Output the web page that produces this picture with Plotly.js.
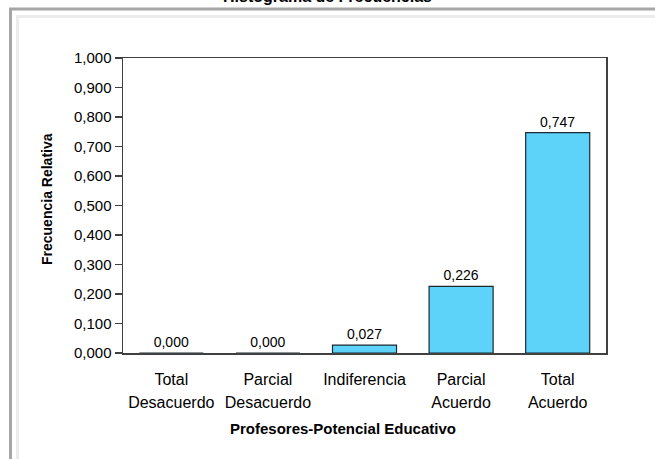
<!DOCTYPE html>
<html>
<head>
<meta charset="utf-8">
<script src="https://cdn.plot.ly/plotly-3.0.1.min.js"></script>
<style>html,body{margin:0;padding:0;background:#fff;}#chart{width:655px;height:459px;}</style>
</head>
<body>
<div id="chart"></div>
<script>
// Data
var categories = ["Total Desacuerdo", "Parcial Desacuerdo", "Indiferencia", "Parcial Acuerdo", "Total Acuerdo"];
var labelLine1 = ["Total", "Parcial", "Indiferencia", "Parcial", "Total"];
var labelLine2 = ["Desacuerdo", "Desacuerdo", "", "Acuerdo", "Acuerdo"];
var frecuenciaRelativa = [0.000, 0.000, 0.027, 0.226, 0.747];
var yTickVals = [0, 0.1, 0.2, 0.3, 0.4, 0.5, 0.6, 0.7, 0.8, 0.9, 1.0];

var fontFam = 'Arial, "Liberation Sans", sans-serif';

var barText = frecuenciaRelativa.map(function(v){ return v.toFixed(3).replace('.', ','); });

var traces = [
  {
    type: 'bar',
    x: categories,
    y: frecuenciaRelativa,
    xaxis: 'x', yaxis: 'y',
    marker: {color: '#5dd3fa', line: {color: '#1c2a30', width: 1.2}},
    text: barText,
    textposition: 'outside',
    textfont: {family: fontFam, size: 14, color: '#000'},
    cliponaxis: false,
    hoverinfo: 'x+y'
  },
  {
    type: 'scatter',
    mode: 'markers',
    x: categories,
    y: frecuenciaRelativa,
    xaxis: 'x2', yaxis: 'y',
    marker: {opacity: 0},
    hoverinfo: 'skip',
    showlegend: false
  }
];

// pixel -> paper helpers (plot area: x 123..606, y 58..353)
function px(p){ return (p - 123) / 483; }
function py(p){ return (353 - p) / 295; }

var layout = {
  width: 655, height: 459,
  margin: {l: 123, r: 49, t: 58, b: 106},
  paper_bgcolor: '#ffffff',
  plot_bgcolor: '#ffffff',
  separators: ',.',
  showlegend: false,
  bargap: 0.337,
  font: {family: fontFam, color: '#000'},
  xaxis: {
    type: 'category',
    categoryorder: 'array', categoryarray: categories,
    tickmode: 'array', tickvals: categories, ticktext: labelLine1,
    range: [-0.5, 4.5],
    showline: true, mirror: true, linecolor: '#404040', linewidth: 1.5,
    ticks: '', showgrid: false, zeroline: false,
    tickfont: {family: fontFam, size: 16, color: '#000'},
    ticklabelstandoff: 11,
    fixedrange: true
  },
  xaxis2: {
    type: 'category',
    overlaying: 'x', anchor: 'y', side: 'bottom',
    matches: 'x',
    categoryorder: 'array', categoryarray: categories,
    tickmode: 'array', tickvals: categories, ticktext: labelLine2,
    range: [-0.5, 4.5],
    showline: false, ticks: '', showgrid: false, zeroline: false,
    tickfont: {family: fontFam, size: 16, color: '#000'},
    ticklabelstandoff: 38,
    fixedrange: true
  },
  yaxis: {
    range: [0, 1],
    tickmode: 'array', tickvals: yTickVals,
    tickformat: '.3f',
    showline: true, mirror: true, linecolor: '#404040', linewidth: 1.5,
    ticks: 'outside', ticklen: 7, tickcolor: '#404040', tickwidth: 1.2,
    showgrid: false, zeroline: false,
    tickfont: {family: fontFam, size: 15, color: '#000'},
    fixedrange: true
  },
  shapes: [
    {type: 'rect', xref: 'paper', yref: 'paper', x0: px(10.5), x1: px(720), y0: py(9), y1: py(520),
     line: {color: '#a6a6a6', width: 3}, fillcolor: 'rgba(0,0,0,0)', layer: 'below'},
    {type: 'rect', xref: 'paper', yref: 'paper', x0: px(17.5), x1: px(710), y0: py(16.5), y1: py(510),
     line: {color: '#ececec', width: 3}, fillcolor: 'rgba(0,0,0,0)', layer: 'below'}
  ],
  annotations: [
    {text: '<b>Histograma de Frecuencias</b>', xref: 'paper', yref: 'paper',
     x: px(327), y: py(-3), xanchor: 'center', yanchor: 'middle', showarrow: false,
     font: {family: fontFam, size: 16, color: '#000'}},
    {text: '<b>Frecuencia Relativa</b>', xref: 'paper', yref: 'paper',
     x: px(47), y: py(199), xanchor: 'center', yanchor: 'middle', textangle: -90, showarrow: false,
     font: {family: fontFam, size: 14, color: '#000'}},
    {text: '<b>Profesores-Potencial Educativo</b>', xref: 'paper', yref: 'paper',
     x: px(343), y: py(428), xanchor: 'center', yanchor: 'middle', showarrow: false,
     font: {family: fontFam, size: 15, color: '#000'}}
  ]
};

Plotly.newPlot('chart', traces, layout, {displayModeBar: false, staticPlot: true});
</script>
</body>
</html>
